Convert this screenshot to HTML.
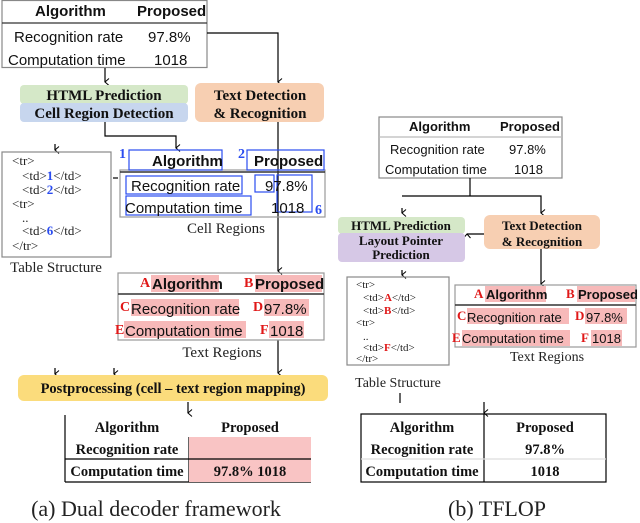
<!DOCTYPE html>
<html><head><meta charset="utf-8"><style>
html,body{margin:0;padding:0;background:#fff;}
svg{display:block}
.s{font-family:"Liberation Sans",sans-serif;}
.r{font-family:"Liberation Serif",serif;}
</style></head><body>
<svg width="640" height="523" viewBox="0 0 640 523" xmlns="http://www.w3.org/2000/svg">
<defs>
<marker id="a" markerWidth="8" markerHeight="8" refX="4" refY="6" orient="auto-start-reverse" markerUnits="userSpaceOnUse">
<path d="M0.5,2 L4,6 L7.5,2" fill="none" stroke="#000" stroke-width="1"/></marker>
</defs>
<g fill="none" stroke="#000" stroke-width="1.2">
<rect x="2" y="0.5" width="205" height="67" stroke="#888"/>
<line x1="2" y1="23" x2="207" y2="23" stroke="#333"/>
<line x1="105" y1="68" x2="105" y2="82" marker-end="url(#a)"/>
<polyline points="207,33 278,33 278,82" marker-end="url(#a)"/>
<polyline points="105,122 105,136 176,136 176,148" marker-end="url(#a)"/>
<line x1="55" y1="144" x2="55" y2="150" marker-end="url(#a)"/>
<line x1="278" y1="122" x2="278" y2="271" marker-end="url(#a)"/>
<line x1="278" y1="340" x2="278" y2="373" marker-end="url(#a)"/>
<line x1="55" y1="368" x2="55" y2="374" marker-end="url(#a)"/>
<line x1="114" y1="368" x2="114" y2="374" marker-end="url(#a)"/>
<line x1="188" y1="402" x2="188" y2="413" marker-end="url(#a)"/>
<line x1="113" y1="178" x2="118" y2="178"/>
<rect x="2" y="152" width="109" height="105" stroke="#888"/>
<rect x="120" y="170" width="205" height="47" stroke="#999"/>
<line x1="120" y1="172" x2="325" y2="172" stroke="#333" stroke-width="1.5"/>
<rect x="118" y="273" width="206" height="67" stroke="#999"/>
<line x1="118" y1="294" x2="324" y2="294" stroke="#333" stroke-width="1.5"/>
<line x1="65" y1="415" x2="65" y2="482"/>
<line x1="65" y1="482" x2="311" y2="482"/>
<line x1="65" y1="459" x2="311" y2="459"/>
<line x1="189" y1="437" x2="189" y2="482"/>
<rect x="379" y="117" width="183" height="61" stroke="#888"/>
<line x1="379" y1="137" x2="562" y2="137" stroke="#bbb"/>
<line x1="470" y1="178" x2="470" y2="196"/>
<polyline points="402,196 541,196 541,213" marker-end="url(#a)"/>
<line x1="402" y1="208" x2="402" y2="213" marker-end="url(#a)"/>
<line x1="484" y1="234" x2="467" y2="234" marker-end="url(#a)"/>
<line x1="541" y1="249" x2="541" y2="284" marker-end="url(#a)"/>
<line x1="402" y1="270" x2="402" y2="275" marker-end="url(#a)"/>
<rect x="347" y="277" width="102" height="88" stroke="#888"/>
<rect x="455" y="285" width="181" height="62" stroke="#999"/>
<line x1="455" y1="305" x2="636" y2="305" stroke="#333" stroke-width="1.5"/>
<line x1="400" y1="393" x2="400" y2="403"/>
<line x1="484" y1="402" x2="484" y2="413" marker-end="url(#a)"/>
<rect x="361" y="414" width="245" height="68"/>
<line x1="484" y1="414" x2="484" y2="482"/>
<line x1="361" y1="459" x2="606" y2="459" stroke="#ddd"/>
</g>
<rect x="20" y="85" width="168" height="19" rx="4" fill="#d5e8c8"/>
<rect x="20" y="103" width="168" height="19" rx="4" fill="#c7d6ee"/>
<rect x="195" y="83" width="129" height="39" rx="6" fill="#f7cfb2"/>
<rect x="18" y="375" width="310" height="26" rx="6" fill="#fbdc7c"/>
<rect x="189" y="437" width="122" height="45" fill="#f9c4c4"/>
<line x1="189" y1="459" x2="311" y2="459" stroke="#000" stroke-width="1.2"/>
<rect x="338" y="217" width="127" height="17" rx="4" fill="#d5e8c8"/>
<rect x="338" y="233" width="127" height="29" rx="4" fill="#d6c8e6"/>
<rect x="484" y="215" width="116" height="34" rx="6" fill="#f7cfb2"/>
<g fill="#f7b9b9">
<rect x="151" y="275" width="68" height="17"/><rect x="255" y="275" width="67" height="17"/>
<rect x="131" y="299" width="108" height="17"/><rect x="264" y="299" width="45" height="17"/>
<rect x="124" y="321" width="122" height="17"/><rect x="269" y="321" width="35" height="17"/>
<rect x="485" y="286" width="61" height="16"/><rect x="577" y="286" width="58" height="16"/>
<rect x="467" y="308" width="102" height="16"/><rect x="585" y="308" width="42" height="16"/>
<rect x="462" y="330" width="108" height="16"/><rect x="591" y="330" width="31" height="16"/>
</g>
<g fill="none" stroke="#2a4cf0" stroke-width="1.2">
<rect x="129" y="150" width="93" height="20"/>
<rect x="247" y="150" width="77" height="20"/>
<rect x="126" y="176" width="116" height="18"/>
<rect x="255" y="175" width="19" height="17"/>
<rect x="277" y="175" width="35" height="37"/>
<rect x="126" y="196" width="125" height="19"/>
</g>
<g class="s" font-size="15" fill="#111">
<text x="35" y="16" font-weight="bold">Algorithm</text>
<text x="137" y="16" font-weight="bold">Proposed</text>
<text x="14" y="42">Recognition rate</text>
<text x="148" y="42">97.8%</text>
<text x="8" y="65">Computation time</text>
<text x="154" y="65">1018</text>
<text x="152" y="166" font-weight="bold">Algorithm</text>
<text x="254" y="166" font-weight="bold">Proposed</text>
<text x="131" y="191">Recognition rate</text>
<text x="265" y="191">97.8%</text>
<text x="125" y="213">Computation time</text>
<text x="271" y="213">1018</text>
<text x="152" y="289" font-weight="bold">Algorithm</text>
<text x="255" y="289" font-weight="bold">Proposed</text>
<text x="131" y="314">Recognition rate</text>
<text x="264" y="314">97.8%</text>
<text x="125" y="336">Computation time</text>
<text x="270" y="336">1018</text>
</g>
<g class="s" font-size="13" fill="#111">
<text x="409" y="131" font-weight="bold">Algorithm</text>
<text x="500" y="131" font-weight="bold">Proposed</text>
<text x="390" y="154">Recognition rate</text>
<text x="509" y="154">97.8%</text>
<text x="385" y="174">Computation time</text>
<text x="514" y="174">1018</text>
<text x="486" y="299" font-weight="bold">Algorithm</text>
<text x="578" y="299" font-weight="bold">Proposed</text>
<text x="467" y="322">Recognition rate</text>
<text x="586" y="322">97.8%</text>
<text x="462" y="343">Computation time</text>
<text x="592" y="343">1018</text>
</g>
<g class="r" font-weight="bold" fill="#111">
<text x="104" y="100" font-size="15" text-anchor="middle">HTML Prediction</text>
<text x="104" y="118" font-size="15" text-anchor="middle">Cell Region Detection</text>
<text x="260" y="100" font-size="15" text-anchor="middle">Text Detection</text>
<text x="260" y="118" font-size="15" text-anchor="middle">&amp; Recognition</text>
<text x="173" y="393" font-size="14.5" text-anchor="middle">Postprocessing (cell – text region mapping)</text>
<text x="401" y="230" font-size="13" text-anchor="middle">HTML Prediction</text>
<text x="401" y="245" font-size="13" text-anchor="middle">Layout Pointer</text>
<text x="401" y="259" font-size="13" text-anchor="middle">Prediction</text>
<text x="542" y="230" font-size="13" text-anchor="middle">Text Detection</text>
<text x="542" y="246" font-size="13" text-anchor="middle">&amp; Recognition</text>
<text x="127" y="432" font-size="14.5" text-anchor="middle">Algorithm</text>
<text x="250" y="432" font-size="14.5" text-anchor="middle">Proposed</text>
<text x="127" y="454" font-size="14.5" text-anchor="middle">Recognition rate</text>
<text x="127" y="476" font-size="14.5" text-anchor="middle">Computation time</text>
<text x="250" y="476" font-size="14.5" text-anchor="middle">97.8% 1018</text>
<text x="422" y="432" font-size="14.5" text-anchor="middle">Algorithm</text>
<text x="545" y="432" font-size="14.5" text-anchor="middle">Proposed</text>
<text x="422" y="454" font-size="14.5" text-anchor="middle">Recognition rate</text>
<text x="545" y="454" font-size="14.5" text-anchor="middle">97.8%</text>
<text x="422" y="476" font-size="14.5" text-anchor="middle">Computation time</text>
<text x="545" y="476" font-size="14.5" text-anchor="middle">1018</text>
</g>
<g class="r" font-weight="bold" font-size="14" fill="#2a4cf0">
<text x="119" y="158">1</text><text x="238" y="158">2</text><text x="315" y="214">6</text>
</g>
<g class="r" font-weight="bold" font-size="14" fill="#e01818">
<text x="140" y="287">A</text><text x="244" y="287">B</text>
<text x="120" y="311">C</text><text x="253" y="311">D</text>
<text x="115" y="334">E</text><text x="260" y="334">F</text>
<text x="474" y="298" font-size="13">A</text><text x="566" y="298" font-size="13">B</text>
<text x="457" y="320" font-size="13">C</text><text x="575" y="320" font-size="13">D</text>
<text x="452" y="342" font-size="13">E</text><text x="581" y="342" font-size="13">F</text>
</g>
<g class="r" font-size="13" fill="#222">
<text x="12" y="165">&lt;tr&gt;</text>
<text x="22" y="180">&lt;td&gt;<tspan fill="#2a4cf0" font-weight="bold">1</tspan>&lt;/td&gt;</text>
<text x="22" y="194">&lt;td&gt;<tspan fill="#2a4cf0" font-weight="bold">2</tspan>&lt;/td&gt;</text>
<text x="12" y="208">&lt;tr&gt;</text>
<text x="22" y="222">..</text>
<text x="22" y="235">&lt;td&gt;<tspan fill="#2a4cf0" font-weight="bold">6</tspan>&lt;/td&gt;</text>
<text x="12" y="250">&lt;/tr&gt;</text>
</g>
<g class="r" font-size="11" fill="#222">
<text x="356" y="288">&lt;tr&gt;</text>
<text x="363" y="301">&lt;td&gt;<tspan fill="#e01818" font-weight="bold">A</tspan>&lt;/td&gt;</text>
<text x="363" y="314">&lt;td&gt;<tspan fill="#e01818" font-weight="bold">B</tspan>&lt;/td&gt;</text>
<text x="356" y="326">&lt;tr&gt;</text>
<text x="363" y="340">..</text>
<text x="363" y="351">&lt;td&gt;<tspan fill="#e01818" font-weight="bold">F</tspan>&lt;/td&gt;</text>
<text x="356" y="362">&lt;/tr&gt;</text>
</g>
<g class="r" font-size="15" fill="#222">
<text x="56" y="272" text-anchor="middle">Table Structure</text>
<text x="226" y="233" text-anchor="middle">Cell Regions</text>
<text x="222" y="357" text-anchor="middle">Text Regions</text>
<text x="398" y="387" font-size="14" text-anchor="middle">Table Structure</text>
<text x="547" y="361" font-size="14" text-anchor="middle">Text Regions</text>
<text x="156" y="516" font-size="22" text-anchor="middle">(a) Dual decoder framework</text>
<text x="497" y="516" font-size="22" text-anchor="middle">(b) TFLOP</text>
</g>
</svg>
</body></html>
